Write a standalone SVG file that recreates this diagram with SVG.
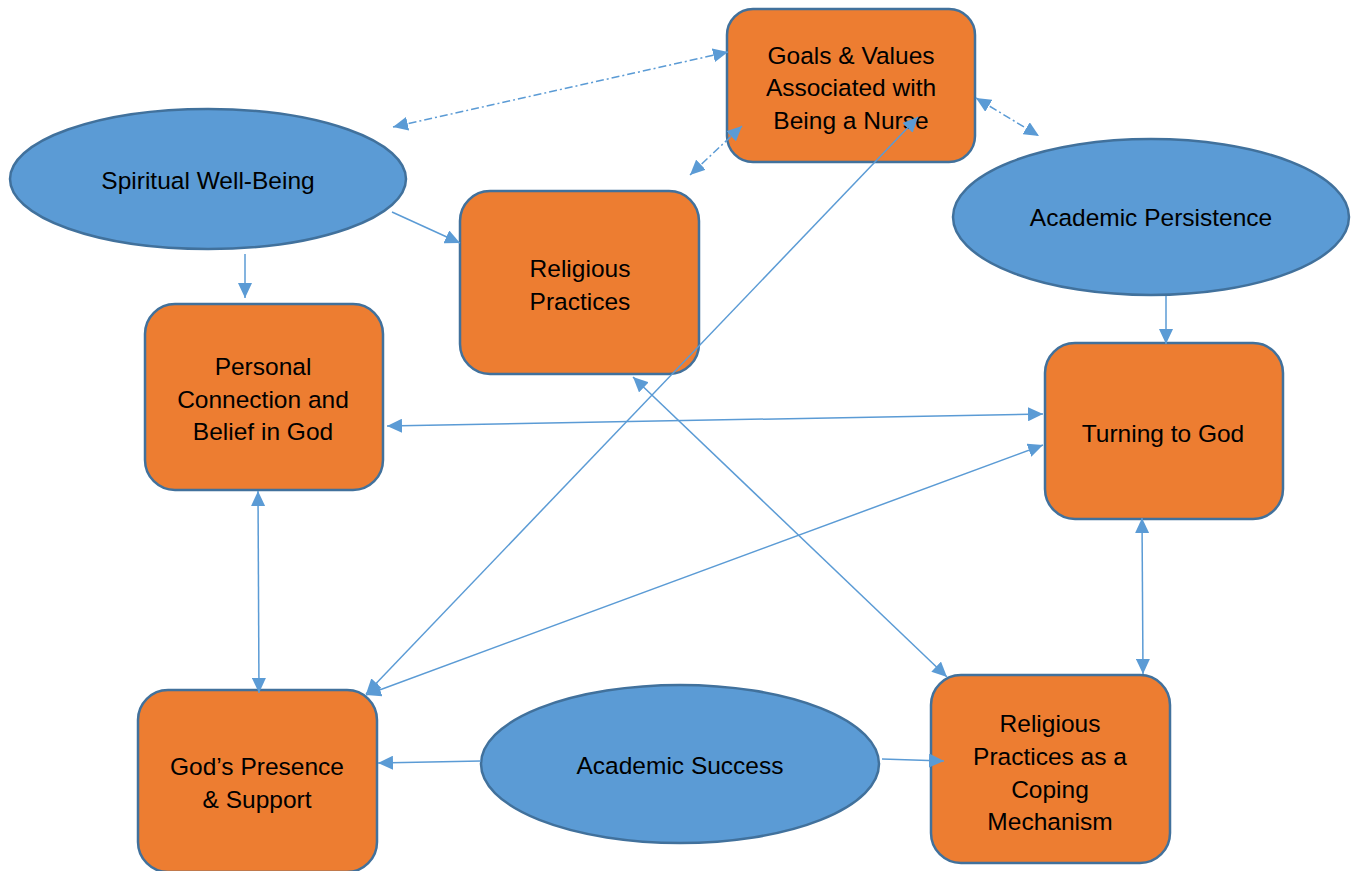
<svg xmlns="http://www.w3.org/2000/svg" width="1355" height="871" viewBox="0 0 1355 871">
<defs>
<style>
.box{fill:#ED7D31;stroke:#41719C;stroke-width:2.5}
.ell{fill:#5B9BD5;stroke:#41719C;stroke-width:2.5}
.t{font-family:"Liberation Sans",Arial,sans-serif;font-size:24.5px;fill:#000;text-anchor:middle;dominant-baseline:central}
.c{fill:none;stroke:#5B9BD5;stroke-width:1.5}
.d{stroke-dasharray:8 3 2 3}
</style>
<marker id="a" markerUnits="userSpaceOnUse" markerWidth="16" markerHeight="14" viewBox="0 0 16 14" refX="15" refY="7" orient="auto-start-reverse">
<path d="M0,0 L15,7 L0,14 z" fill="#5B9BD5"/>
</marker>
</defs>
<rect width="1355" height="871" fill="#fff"/>
<g id="goals">
<rect class="box" x="727" y="9" width="248" height="153" rx="26"/>
<text class="t" x="851" y="55">Goals &amp; Values</text>
<text class="t" x="851" y="87">Associated with</text>
<text class="t" x="851" y="120">Being a Nurse</text>
</g>
<g id="spiritual">
<ellipse class="ell" cx="208" cy="179" rx="198" ry="70"/>
<text class="t" x="208" y="180">Spiritual Well-Being</text>
</g>
<g id="religious">
<rect class="box" x="460" y="191" width="239" height="183" rx="30"/>
<text class="t" x="580" y="268">Religious</text>
<text class="t" x="580" y="301">Practices</text>
</g>
<g id="persistence">
<ellipse class="ell" cx="1151" cy="217" rx="198" ry="78"/>
<text class="t" x="1151" y="217">Academic Persistence</text>
</g>
<g id="personal">
<rect class="box" x="145" y="304" width="238" height="186" rx="30"/>
<text class="t" x="263" y="366">Personal</text>
<text class="t" x="263" y="399">Connection and</text>
<text class="t" x="263" y="431">Belief in God</text>
</g>
<g id="turning">
<rect class="box" x="1045" y="343" width="238" height="176" rx="30"/>
<text class="t" x="1163" y="433">Turning to God</text>
</g>
<g id="presence">
<rect class="box" x="138" y="690" width="239" height="182" rx="30"/>
<text class="t" x="257" y="766">God’s Presence</text>
<text class="t" x="257" y="799">&amp; Support</text>
</g>
<g id="success">
<ellipse class="ell" cx="680" cy="764" rx="199" ry="79"/>
<text class="t" x="680" y="765">Academic Success</text>
</g>
<g id="coping">
<rect class="box" x="931" y="675" width="239" height="188" rx="30"/>
<text class="t" x="1050" y="723">Religious</text>
<text class="t" x="1050" y="756">Practices as a</text>
<text class="t" x="1050" y="789">Coping</text>
<text class="t" x="1050" y="821">Mechanism</text>
</g>
<g id="connectors">
<line class="c d" x1="393" y1="127" x2="728" y2="52" marker-start="url(#a)" marker-end="url(#a)"/>
<line class="c d" x1="690" y1="175" x2="742" y2="126" marker-start="url(#a)" marker-end="url(#a)"/>
<line class="c d" x1="976" y1="98" x2="1039" y2="136" marker-start="url(#a)" marker-end="url(#a)"/>
<line class="c" x1="392" y1="212" x2="460" y2="243" marker-end="url(#a)"/>
<line class="c" x1="245" y1="254" x2="245" y2="298" marker-end="url(#a)"/>
<line class="c" x1="1166" y1="296" x2="1166" y2="344" marker-end="url(#a)"/>
<line class="c" x1="387" y1="426" x2="1043" y2="414" marker-start="url(#a)" marker-end="url(#a)"/>
<line class="c" x1="258" y1="491" x2="259" y2="693" marker-start="url(#a)" marker-end="url(#a)"/>
<line class="c" x1="366" y1="694" x2="918" y2="117" marker-start="url(#a)" marker-end="url(#a)"/>
<line class="c" x1="366" y1="695" x2="1043" y2="445" marker-start="url(#a)" marker-end="url(#a)"/>
<line class="c" x1="633" y1="377" x2="947" y2="677" marker-start="url(#a)" marker-end="url(#a)"/>
<line class="c" x1="1142" y1="518" x2="1143" y2="674" marker-start="url(#a)" marker-end="url(#a)"/>
<line class="c" x1="481" y1="761" x2="378" y2="763" marker-end="url(#a)"/>
<line class="c" x1="882" y1="759" x2="944" y2="761" marker-end="url(#a)"/>
</g>
</svg>
